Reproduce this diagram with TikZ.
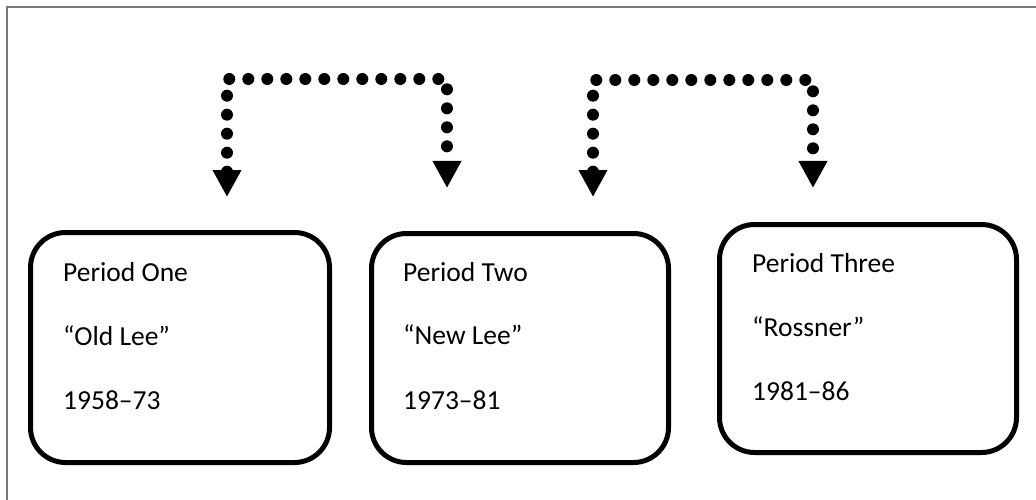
\documentclass[tikz,border=0pt]{standalone}
\usepackage{fontspec}
\setmainfont{Carlito}
\usetikzlibrary{arrows.meta}
\begin{document}
\begin{tikzpicture}[x=1pt,y=-1pt,
  frame/.style={draw=gray!95!black,line width=2pt},
  period/.style={draw=black,line width=5pt,rounded corners=35pt,fill=none,inner sep=0pt},
  label/.style={anchor=base west,inner sep=0pt,font=\fontsize{27.5}{31}\selectfont},
  conn/.style={line width=12pt,line cap=round,dash pattern=on 0pt off 19pt,
    {Triangle[width=27pt,length=27pt]}-{Triangle[width=27pt,length=27pt]}}]
  \useasboundingbox (0,0) rectangle (1036,500);
  % open frame: only the left and top edges
  \draw[frame] (7,500) -- (7,7) -- (1036,7);

  % the three period boxes
  \node[period,minimum width=299pt,minimum height=230pt] (b1) at (180,347.5) {};
  \node[period,minimum width=297pt,minimum height=229pt] (b2) at (520,348) {};
  \node[period,minimum width=297pt,minimum height=228pt] (b3) at (868,338.5) {};

  \node[label] (t11) at (63,281) {Period One};
  \node[label] (t12) at (63,345) {“Old Lee”};
  \node[label] (t13) at (63,409) {1958–73};

  \node[label] (t21) at (403,281) {Period Two};
  \node[label] (t22) at (403,344) {“New Lee”};
  \node[label] (t23) at (403,409) {1973–81};

  \node[label] (t31) at (752,272) {Period Three};
  \node[label] (t32) at (752,336) {“Rossner”};
  \node[label] (t33) at (752,400) {1981–86};

  % dotted elbow connectors with arrow ends
  \coordinate (l1) at (227,197);
  \coordinate (k1) at (227,79);
  \coordinate (r1) at (447,188);
  \coordinate (l2) at (593,197);
  \coordinate (k2) at (593,80);
  \coordinate (r2) at (813,188);
  \draw[conn] (l1) -- (k1) -| (r1);
  \draw[conn] (l2) -- (k2) -| (r2);
\end{tikzpicture}
\end{document}
